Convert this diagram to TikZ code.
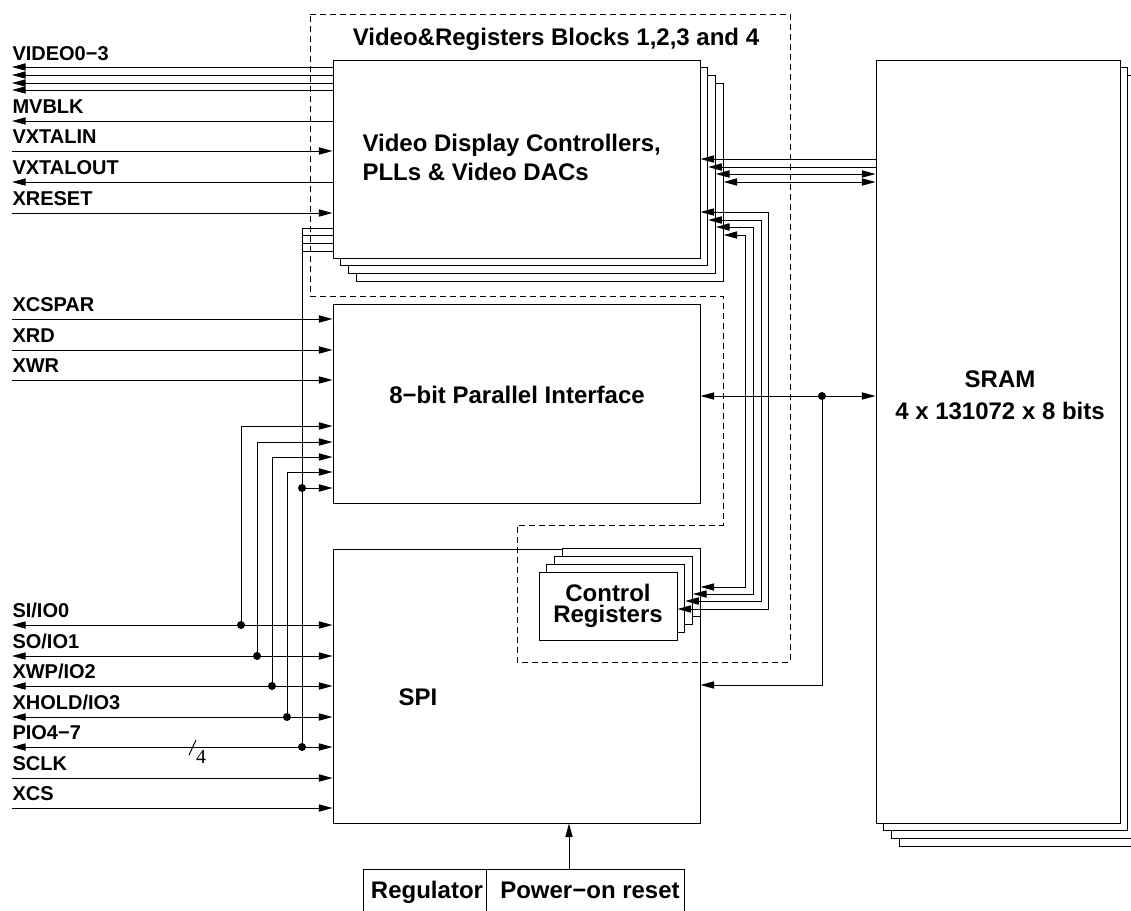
\documentclass[tikz,border=0pt]{standalone}
\usepackage{fontspec}
\setmainfont{Liberation Sans}
\newfontfamily\numfont{Liberation Serif}
\usetikzlibrary{arrows.meta,positioning,fit,calc}

\begin{document}
\begin{tikzpicture}[
    x=0.5pt, y=-0.5pt, line width=0.5pt,
    box/.style={draw, fill=white, inner sep=0pt},
    pin/.style={anchor=base west, inner sep=0pt, font=\fontsize{10}{12}\selectfont\bfseries},
    blocktext/.style={inner sep=0pt, font=\fontsize{12}{14.5}\selectfont\bfseries},
    arrow/.style={-{Triangle[length=6.8pt,width=3.6pt]}},
    arrowback/.style={{Triangle[length=6.8pt,width=3.6pt]}-},
    arrowboth/.style={{Triangle[length=6.8pt,width=3.6pt]}-{Triangle[length=6.8pt,width=3.6pt]}},
    group/.style={dash pattern=on 3pt off 2pt},
    dot/.style={circle, fill, inner sep=0pt, minimum size=4pt}
  ]
  \useasboundingbox (0,0) rectangle (1131,911);

  % stacked blocks, back layers first
  \foreach \k in {3,2,1} {
    \node[box, fit={(333+7.7*\k,60+7.7*\k) (700+7.7*\k,258+7.7*\k)}] (vdc\k) {};
    \node[box, fit={(876+7.7*\k,60+7.7*\k) (1120+7.7*\k,823+7.7*\k)}] (sram\k) {};
  }
  \node[box, fit={(333,60) (700,258)}] (vdc0) {};
  \node[box, fit={(876,60) (1120,823)}] (sram0) {};
  \node[box, fit={(333,304) (700,503)}] (par) {};
  \node[box, fit={(333,549) (700,823)}] (spi) {};
  \foreach \k in {3,2,1}
    \node[box, fit={(539+7.7*\k,572-7.7*\k) (677+7.7*\k,640-7.7*\k)}] (creg\k) {};
  \node[box, fit={(539,572) (677,640)}] (creg0) {};
  \node[box, fit={(363,869) (486,930)}] (reg) {};
  \node[box, fit={(486,869) (684,930)}] (por) {};

  \node[blocktext, anchor=base] (title) at (556,45) {Video\&Registers Blocks 1,2,3 and 4};
  \node[blocktext, align=left, anchor=west] (vdctext) at (362,157) {Video Display Controllers,\\PLLs \& Video DACs};
  \node[blocktext, anchor=base] (partext) at (517,403) {8−bit Parallel Interface};
  \node[blocktext, anchor=base] (spitext) at (418,705) {SPI};
  \node[blocktext, align=center, font=\fontsize{12}{10.5}\selectfont\bfseries] (cregtext) at (creg0.center) {Control\\Registers};
  \node[blocktext, align=center, font=\fontsize{12}{16}\selectfont\bfseries] (sramtext) at (1000,395) {SRAM\\4 x 131072 x 8 bits};
  \node[blocktext, anchor=base] (regtext) at (427,898) {Regulator};
  \node[blocktext, anchor=base] (portext) at (590,898) {Power−on reset};

  % video pins
  \node[pin] (lvideo) at (12,60) {VIDEO0−3};
  \foreach \y in {67,75,83,90}
    \draw[arrowback] (lvideo.west |- 0,\y) -- (vdc0.west |- 0,\y);
  \foreach \name/\t/\y/\s in {mvblk/MVBLK/121/arrowback, vxtalin/VXTALIN/151/arrow,
      vxtalout/VXTALOUT/182/arrowback, xreset/XRESET/213/arrow} {
    \node[pin] (l\name) at (12,\y-7.5) {\t};
    \draw[\s] (l\name.west |- 0,\y) -- (vdc0.west |- 0,\y);
  }

  % parallel pins
  \foreach \name/\t/\y in {xcspar/XCSPAR/319, xrd/XRD/350, xwr/XWR/380} {
    \node[pin] (l\name) at (12,\y-7.5) {\t};
    \draw[arrow] (l\name.west |- 0,\y) -- (par.west |- 0,\y);
  }

  % spi pins
  \foreach \name/\t/\y/\s in {si/SI\slash IO0/625/arrowboth, so/SO\slash IO1/656/arrowboth,
      xwp/XWP\slash IO2/686/arrowboth, xhold/XHOLD\slash IO3/717/arrowboth,
      pio/PIO4−7/747/arrowboth, sclk/SCLK/778/arrow, xcs/XCS/808/arrow} {
    \node[pin] (l\name) at (12,\y-7.5) {\t};
    \draw[\s] (l\name.west |- 0,\y) -- (spi.west |- 0,\y);
  }
  \draw (lpio.west |- 0,747) ++(177,8) -- ++(7,-15);
  \node[font=\numfont\fontsize{10}{12}\selectfont, inner sep=0pt] (buswidth) at (201,757) {4};

  % taps to the parallel interface
  \foreach \x/\ya/\yb [count=\i] in {241/426/625, 257/442/656, 272/457/686, 287/472/717} {
    \node[dot] (tap\i) at (\x,\yb) {};
    \draw[arrow] (tap\i.center) |- (par.west |- 0,\ya);
  }
  \node[dot] (tap5) at (302,747) {};
  \node[dot] (tap6) at (302,488) {};
  \draw (tap5.center) |- (vdc0.west |- 0,228);
  \foreach \y in {235,243,251}
    \draw (tap5.center |- 0,\y) -- (vdc0.west |- 0,\y);
  \draw[arrow] (tap6.center) -- (tap6.center -| par.west);

  % sram and register links
  \foreach \y/\k/\s in {159/0/arrow, 167/1/arrow, 174/2/arrowboth, 182/3/arrowboth}
    \draw[\s] (sram0.west |- 0,\y) -- (vdc\k.east |- 0,\y);
  \foreach \k/\ya/\x/\yb in {0/212/768/609, 1/220/761/601, 2/227/753/594, 3/235/745/587}
    \draw[arrowboth] (vdc\k.east |- 0,\ya) -| (\x,\yb) -- (creg\k.east |- 0,\yb);

  \node[dot] (split) at (822,396) {};
  \draw[arrowboth] (par.east |- 0,396) -- (sram0.west |- 0,396);
  \draw[arrow] (split.center) |- (spi.east |- 0,685);
  \draw[arrow] (por.north -| 569,0) -- (spi.south -| 569,0);

  \draw[group] (310,14) -- (790,14) -- (790,662) -- (517,662) -- (517,525)
    -- (723,525) -- (723,296) -- (310,296) -- cycle;
\end{tikzpicture}
\end{document}
